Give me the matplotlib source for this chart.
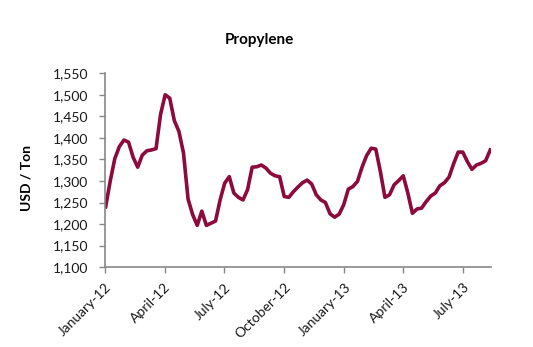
import matplotlib
matplotlib.use('Agg')
import matplotlib.pyplot as plt
import pandas as pd

# weekly propylene prices, USD / Ton
start_date = '2012-01-02'
prices = [1240, 1300, 1352, 1380, 1395, 1390, 1355, 1332, 1360, 1370,
          1372, 1375, 1455, 1500, 1492, 1440, 1415, 1365, 1258, 1222,
          1197, 1230, 1197, 1202, 1207, 1256, 1295, 1310, 1272, 1262,
          1256, 1280, 1332, 1333, 1337, 1330, 1318, 1312, 1310, 1264,
          1262, 1275, 1286, 1296, 1302, 1293, 1268, 1256, 1250, 1224,
          1216, 1223, 1245, 1281, 1287, 1299, 1332, 1359, 1376, 1374,
          1322, 1262, 1268, 1291, 1301, 1312, 1272, 1225, 1235, 1237,
          1252, 1265, 1272, 1289, 1296, 1309, 1340, 1367, 1367, 1345,
          1327, 1337, 1341, 1347, 1372]
tick_months = ['2012-01-01', '2012-04-01', '2012-07-01', '2012-10-01',
               '2013-01-01', '2013-04-01', '2013-07-01']
tick_labels = ['January-12', 'April-12', 'July-12', 'October-12',
               'January-13', 'April-13', 'July-13']
y_ticks = list(range(1100, 1551, 50))

dates = pd.date_range(start_date, periods=len(prices), freq='7D')

plt.rcParams['font.family'] = ['Lato', 'DejaVu Sans']

fig = plt.figure(figsize=(5.33, 3.47), dpi=100)
ax = fig.add_axes([0.197, 0.23, 0.724, 0.559])

ax.plot(dates, prices, color='#8c0a3c', linewidth=2.6, solid_joinstyle='round')

ax.set_ylim(1100, 1550)
ax.set_yticks(y_ticks)
ax.set_yticklabels(['{:,}'.format(v) for v in y_ticks], fontsize=10, color='#1a1a1a')

ticks = pd.to_datetime(tick_months)
ax.set_xlim(pd.Timestamp('2012-01-01'), dates[-1] + pd.Timedelta(days=1))
ax.set_xticks(ticks)
ax.set_xticklabels(tick_labels, rotation=45, ha='right', rotation_mode='anchor',
                   fontsize=10, color='#1a1a1a')

for side in ['top', 'right']:
    ax.spines[side].set_visible(False)
for side in ['left', 'bottom']:
    ax.spines[side].set_color('#888888')
    ax.spines[side].set_linewidth(1.2)
ax.tick_params(axis='y', direction='out', length=4, width=1, color='#888888', pad=8)
ax.tick_params(axis='x', direction='out', length=4, width=1, color='#888888', pad=6)

ax.set_ylabel('USD / Ton', fontsize=10, fontweight='bold')
ax.yaxis.set_label_coords(-0.189, 0.46)
fig.text(259 / 533, 1 - 40 / 347, 'Propylene', ha='center', va='center',
         fontsize=11, fontweight='bold')

fig.savefig('out.png', dpi=100)
